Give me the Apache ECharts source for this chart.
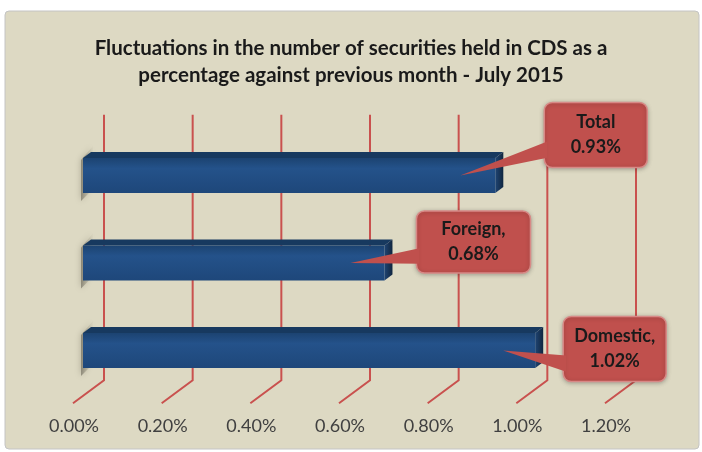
<!DOCTYPE html>
<html>
<head>
<meta charset="utf-8">
<script src="https://cdn.jsdelivr.net/npm/echarts@6/dist/echarts.min.js"></script>
<style>
  html, body { margin: 0; padding: 0; background: #fff; }
  #main { width: 702px; height: 452px; }
</style>
</head>
<body>
<div id="main"></div>
<script>
// data (category 0 is drawn at the bottom)
var categories = ['Domestic', 'Foreign', 'Total'];
var calloutNames = ['Domestic,', 'Foreign,', 'Total'];
var values = [1.02, 0.68, 0.93];
var xTicks = [0, 0.2, 0.4, 0.6, 0.8, 1.0, 1.2];

// callout box per bar: [dx from bar end, dy from bar centre, width, height]
var calloutBox = [[28, -34, 103, 65], [32, -52, 114, 62], [49, -73, 103, 65]];
// tail tip per bar: dx from bar end
var calloutTip = [-32, -34, -35];

var FONT = 'Lato';
var DX = 8, DY = -6;   // bar depth

var myChart = echarts.init(document.getElementById('main'));

function renderGrid(params, api) {
  var p = api.coord([api.value(0), 0]);
  var cs = params.coordSys;
  var bottom = cs.y + cs.height;
  var fx = p[0];
  var bx = fx + 30;
  return {
    type: 'polyline',
    shape: { points: [[bx, cs.y - 17], [bx, bottom - 14], [fx - 1, bottom + 9]] },
    style: { stroke: '#C9514E', lineWidth: 2, fill: null }
  };
}

function renderBar(params, api) {
  var idx = api.value(1);
  var val = api.value(0);
  var p0 = api.coord([0, idx]);
  var p1 = api.coord([val, idx]);
  var h = api.size([0, 1])[1] * 0.4;
  var x0 = p0[0] + 9, x1 = p1[0] + 9;
  var yt = p0[1] - h / 2, yb = p0[1] + h / 2;
  var cy = p0[1];

  var b = calloutBox[idx];
  var bxl = x1 + b[0], byt = cy + b[1], bw = b[2], bh = b[3];
  var tip = [x1 + calloutTip[idx], cy];

  return {
    type: 'group',
    children: [
      {
        type: 'polygon',
        shape: { points: [[x0 - 2, yt + 2], [x0 + 10, yt - 12], [x0 + 10, yb - 4], [x0 - 2, yb + 8]] },
        style: {
          fill: new echarts.graphic.LinearGradient(0, 0, 1, 0, [
            { offset: 0, color: 'rgba(100,96,82,0.6)' },
            { offset: 1, color: 'rgba(160,155,135,0.05)' }
          ]),
          shadowBlur: 6, shadowColor: 'rgba(90,85,70,0.6)'
        }
      },
      {
        type: 'polygon',
        shape: { points: [[x0, yt], [x0 + DX, yt + DY], [x1 + DX, yt + DY], [x1, yt]] },
        style: { fill: '#17395F' }
      },
      {
        type: 'polygon',
        shape: { points: [[x1, yt], [x1 + DX, yt + DY], [x1 + DX, yb + DY], [x1, yb]] },
        style: {
          fill: new echarts.graphic.LinearGradient(0, 0, 1, 0, [
            { offset: 0, color: '#1F4473' },
            { offset: 1, color: '#10263F' }
          ])
        }
      },
      {
        type: 'rect',
        shape: { x: x0, y: yt, width: x1 - x0, height: h },
        style: {
          fill: new echarts.graphic.LinearGradient(0, 0, 0, 1, [
            { offset: 0, color: '#1C4371' },
            { offset: 0.3, color: '#24528A' },
            { offset: 1, color: '#1E477A' }
          ])
        }
      },
      {
        type: 'rect',
        shape: { x: bxl, y: byt, width: bw, height: bh, r: 8 },
        style: {
          fill: '#C0504D', stroke: '#D88986', lineWidth: 1.5,
          shadowBlur: 4, shadowColor: 'rgba(0,0,0,0.25)', shadowOffsetY: 1
        }
      },
      {
        type: 'polygon',
        shape: { points: [[bxl + 3, byt + bh * 0.6], tip, [bxl + 3, byt + bh * 0.85]] },
        style: { fill: '#C0504D' }
      },
      {
        type: 'text',
        style: {
          x: bxl + bw / 2, y: byt + bh / 2,
          text: calloutNames[idx] + '\n' + val.toFixed(2) + '%',
          align: 'center', verticalAlign: 'middle',
          font: 'bold 18px ' + FONT, lineHeight: 25, fill: '#1A1A1A'
        }
      }
    ]
  };
}

var barData = values.map(function (v, i) { return [v, i]; });
var gridData = xTicks.map(function (t) { return [t]; });

myChart.setOption({
  backgroundColor: '#fff',
  animation: false,
  title: {
    text: 'Fluctuations in the number of securities held in CDS as a\npercentage against previous month - July 2015',
    left: 'center',
    top: 30,
    textStyle: { fontFamily: FONT, fontSize: 20.5, fontWeight: 'bold', color: '#1A1A1A', lineHeight: 27 }
  },
  graphic: [{
    type: 'rect', z: -10,
    shape: { x: 5, y: 11, width: 694, height: 438, r: 4 },
    style: { fill: '#DDD9C3', stroke: '#C4C4C4', lineWidth: 1 }
  }],
  grid: { left: 74, right: 96, top: 131.75, height: 262.5 },
  xAxis: {
    type: 'value', min: 0, max: 1.2, interval: 0.2,
    axisLine: { show: false }, axisTick: { show: false }, splitLine: { show: false },
    axisLabel: {
      margin: 23, color: '#404040', fontFamily: FONT, fontSize: 18,
      formatter: function (v) { return v.toFixed(2) + '%'; }
    }
  },
  yAxis: {
    type: 'category', data: categories,
    axisLine: { show: false }, axisTick: { show: false }, axisLabel: { show: false }, splitLine: { show: false }
  },
  series: [
    { type: 'custom', renderItem: renderGrid, data: gridData, z: 1, silent: true },
    { type: 'custom', renderItem: renderBar, data: barData, z: 3 }
  ]
});
</script>
</body>
</html>
